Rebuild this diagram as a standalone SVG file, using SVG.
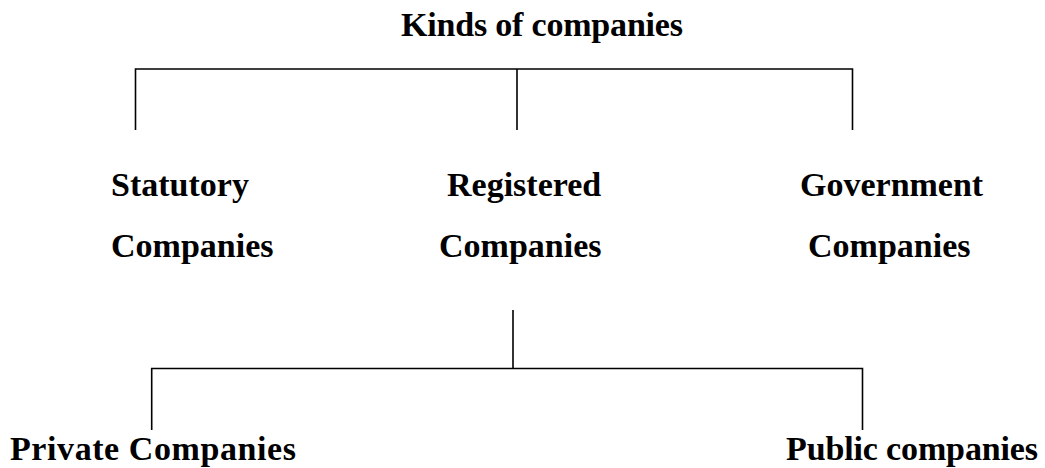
<svg xmlns="http://www.w3.org/2000/svg" width="1045" height="468" viewBox="0 0 1045 468">
<style>
.t{font-family:"Liberation Serif","Times New Roman",serif;font-weight:bold;font-size:34px;fill:#000}
.c{stroke:#000;stroke-width:1.6;fill:none}
</style>
<rect width="1045" height="468" fill="#fff"/>
<g id="connectors">
<path class="c" d="M135.5 130 V69 H852.5 V130 M517 69 V130"/>
<path class="c" d="M513 310 V368.5 M151.7 430 V368.5 H862.5 V430"/>
</g>
<g id="node-root"><text class="t" x="401" y="36" textLength="282">Kinds of companies</text></g>
<g id="node-statutory"><text class="t" x="111" y="196">Statutory</text><text class="t" x="111" y="257">Companies</text></g>
<g id="node-registered"><text class="t" x="447" y="196">Registered</text><text class="t" x="439" y="257">Companies</text></g>
<g id="node-government"><text class="t" x="800" y="196">Government</text><text class="t" x="808" y="257">Companies</text></g>
<g id="node-private"><text class="t" x="10" y="460" textLength="286">Private Companies</text></g>
<g id="node-public"><text class="t" x="786" y="460" textLength="252">Public companies</text></g>
</svg>
